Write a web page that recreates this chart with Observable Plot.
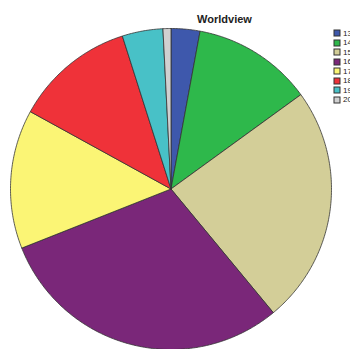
<!DOCTYPE html>
<html>
<head>
<meta charset="utf-8">
<script src="https://cdn.jsdelivr.net/npm/d3@7"></script>
<script src="https://cdn.jsdelivr.net/npm/@observablehq/plot@0.6"></script>
<style>
  html, body { margin: 0; padding: 0; background: #fff; overflow: hidden; }
  #wrap { position: relative; width: 350px; height: 349px; overflow: hidden; }
  #wrap > svg { position: absolute; left: 0; top: 0; }
  #legend { position: absolute; left: 334px; top: 28.5px; width: 60px; }
  .lg-swatches { font-family: "Liberation Sans", Arial, sans-serif !important; font-size: 8px !important; color: #222; margin: 0 !important; }
  .lg-swatch { height: 9.5px; padding-bottom: 0 !important; display: flex; align-items: center; white-space: nowrap; }
  .lg-swatch > svg { margin-right: 3px !important; }
  .lg-swatch > svg rect { stroke: #333; stroke-width: 1px; }
  .lg-swatch-label { overflow: visible !important; text-overflow: clip !important; }
</style>
</head>
<body>
<div id="wrap"><div id="legend"></div></div>
<script>
const categories = ["13", "14", "15", "16", "17", "18", "19", "20"];
const values = [2.9, 12.1, 24.0, 30.0, 14.0, 12.1, 4.1, 0.8];
const colors = ["#3E58AC", "#2EB84B", "#D3CE98", "#7A2779", "#FBF575", "#EF3239", "#48C1C7", "#D0D0D0"];
const title = "Worldview";

const arcs = d3.pie().sort(null).value(d => d.value)(categories.map((c, i) => ({key: c, value: values[i]})));
const pts = [];
for (const a of arcs) {
  const k = a.data.key;
  pts.push({key: k, x: 0, y: 0});
  const n = Math.max(2, Math.ceil((a.endAngle - a.startAngle) / 0.01));
  for (let j = 0; j <= n; j++) {
    const t = a.startAngle + (a.endAngle - a.startAngle) * j / n;
    pts.push({key: k, x: Math.sin(t), y: Math.cos(t)});
  }
  pts.push({key: k, x: 0, y: 0});
}

const plot = Plot.plot({
  width: 350,
  height: 349,
  marginLeft: 10,
  marginRight: 19,
  marginTop: 28,
  marginBottom: 0,
  x: {domain: [-1, 1], axis: null},
  y: {domain: [-1, 1], axis: null},
  color: {domain: categories, range: colors},
  style: {background: "white", overflow: "visible"},
  marks: [
    Plot.line(pts, {x: "x", y: "y", z: "key", fill: "key", stroke: "#333", strokeWidth: 0.8, strokeLinejoin: "round"}),
    Plot.text([title], {frameAnchor: "top-left", dx: 214, dy: -6, lineAnchor: "bottom", text: d => d, fontSize: 11, fontWeight: "bold", fill: "#222", fontFamily: "Liberation Sans, Arial, sans-serif", textAnchor: "middle"})
  ]
});
document.getElementById("wrap").prepend(plot);
const leg = plot.legend("color", {columns: 1, swatchSize: 6, className: "lg"});
document.getElementById("legend").appendChild(leg);
</script>
</body>
</html>
